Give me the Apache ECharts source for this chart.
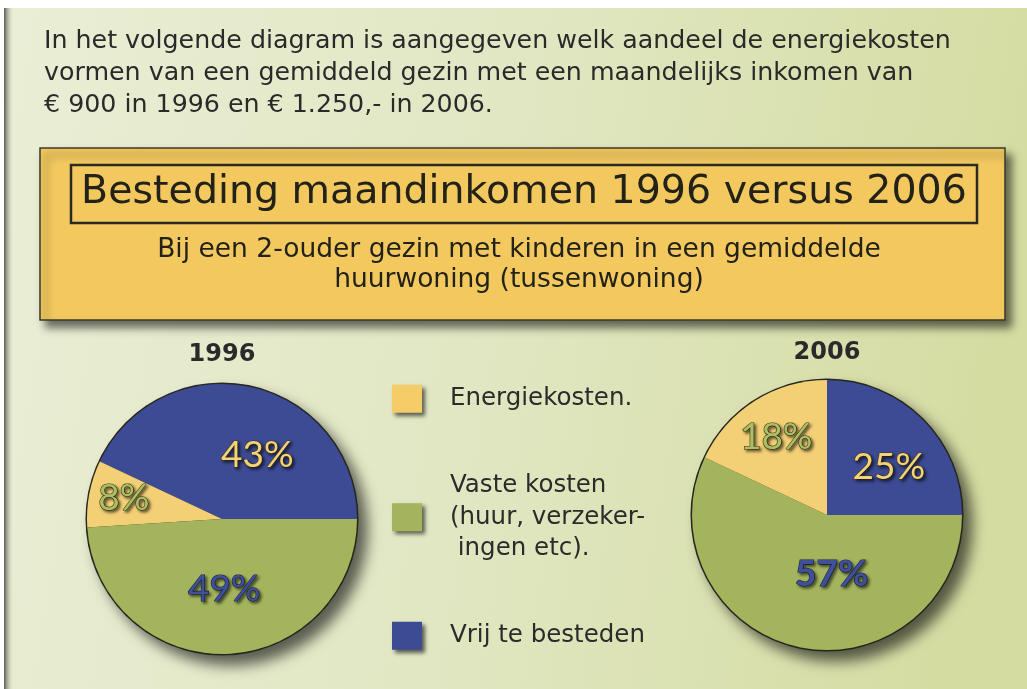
<!DOCTYPE html>
<html>
<head>
<meta charset="utf-8">
<script src="https://cdn.jsdelivr.net/npm/echarts@6/dist/echarts.min.js"></script>
<style>html,body{margin:0;padding:0;}#chart{width:1027px;height:689px;}</style>
</head>
<body>
<div id="chart"></div>
<script>
// ---- data ----
const introLines = [
  'In het volgende diagram is aangegeven welk aandeel de energiekosten',
  'vormen van een gemiddeld gezin met een maandelijks inkomen van',
  '€ 900 in 1996 en € 1.250,- in 2006.'
];
const mainTitle = 'Besteding maandinkomen 1996 versus 2006';
const subTitleLines = [
  'Bij een 2-ouder gezin met kinderen in een gemiddelde',
  'huurwoning (tussenwoning)'
];
const categories = ['Energiekosten.', 'Vaste kosten', 'Vrij te besteden'];
const legendLines = [
  ['Energiekosten.'],
  ['Vaste kosten', '(huur, verzeker-', ' ingen etc).'],
  ['Vrij te besteden']
];
const years = ['1996', '2006'];
const values1996 = [8, 49, 43];
const values2006 = [18, 57, 25];

// ---- styles ----
const sliceColors = ['#f3cf76', '#a3b45c', '#3c4b93'];
const legendColors = ['#f5cc68', '#a3b45c', '#3c4b93'];
const labelFill = ['#aebe64', '#3f4f9c', '#f2d27a'];
const labelBorder = ['#3a4018', '#1c2448', '#4a3a10'];
const pieCenters = [[222, 519], [827, 515]];
const pieRadius = 135;
const drawOrder = [[2, 0, 1], [2, 1, 0]];
const startAngles = [0, 90];
const clockwise = [false, true];
const labelOffsets = [
  [[-29, -8], [0, 0], [20, 5]],
  [[-13, -18], [20, -10], [12, 2]]
];
const labelWeights = [['normal', 'normal', 'normal'], ['normal', 'bold', 'normal']];

const chart = echarts.init(document.getElementById('chart'));

function buildData(vals, p) {
  return drawOrder[p].map(function (i) {
    return {
      name: categories[i],
      value: vals[i],
      itemStyle: { color: sliceColors[i] },
      label: {
        offset: labelOffsets[p][i],
        color: labelFill[i],
        fontWeight: labelWeights[p][i],
        textBorderColor: labelBorder[i],
        textBorderWidth: 1.2,
        textShadowColor: 'rgba(0,0,0,0.55)',
        textShadowBlur: 3,
        textShadowOffsetX: 2,
        textShadowOffsetY: 2
      }
    };
  });
}

const allVals = [values1996, values2006];
const series = [];
allVals.forEach(function (vals, p) {
  series.push({
    type: 'pie',
    silent: true,
    z: 1,
    center: pieCenters[p],
    radius: [0, pieRadius + 1.5],
    startAngle: 0,
    label: { show: false },
    labelLine: { show: false },
    itemStyle: {
      color: '#26261e',
      shadowBlur: 14,
      shadowOffsetX: 9,
      shadowOffsetY: 10,
      shadowColor: 'rgba(0,0,0,0.6)'
    },
    emphasis: { disabled: true },
    data: [{ value: 1, name: '' }]
  });
  series.push({
    type: 'pie',
    silent: true,
    z: 2,
    center: pieCenters[p],
    radius: [0, pieRadius],
    startAngle: startAngles[p],
    clockwise: clockwise[p],
    animation: false,
    itemStyle: { borderWidth: 0 },
    emphasis: { disabled: true },
    label: {
      show: true,
      position: 'inside',
      formatter: '{c}%',
      fontFamily: 'Lato',
      fontSize: 37
    },
    labelLine: { show: false },
    data: buildData(vals, p)
  });
});

const legendTops = [379, 436, 616];
const legendPadTop = [8, 68, 8];
const legends = categories.map(function (c, i) {
  return {
    orient: 'vertical',
    left: 392,
    top: legendTops[i],
    padding: 0,
    selectedMode: false,
    icon: 'rect',
    itemWidth: 30,
    itemHeight: 28,
    data: [c],
    formatter: function () { return legendLines[i].join('\n'); },
    itemStyle: {
      color: legendColors[i],
      borderWidth: 0,
      shadowBlur: 4,
      shadowOffsetX: 3,
      shadowOffsetY: 3,
      shadowColor: 'rgba(0,0,0,0.6)'
    },
    textStyle: {
      fontFamily: 'DejaVu Sans',
      fontSize: 24.5,
      lineHeight: 31.5,
      color: '#2b2b2b',
      padding: [legendPadTop[i], 0, 0, 23]
    }
  };
});

const option = {
  animation: false,
  backgroundColor: {
    type: 'linear', x: 0, y: 0, x2: 1, y2: 0.25,
    colorStops: [
      { offset: 0, color: '#eaeed6' },
      { offset: 0.5, color: '#e1e7c3' },
      { offset: 1, color: '#d5dca2' }
    ]
  },
  graphic: [
    { type: 'rect', shape: { x: 0, y: 0, width: 1027, height: 8 }, style: { fill: '#ffffff' }, z: 0 },
    { type: 'rect', shape: { x: 4, y: 8, width: 9, height: 681 },
      style: { fill: { type: 'linear', x: 0, y: 0, x2: 1, y2: 0, colorStops: [
        { offset: 0, color: '#5a5a52' }, { offset: 1, color: 'rgba(200,205,180,0)' }] } }, z: 0 },
    { type: 'rect', shape: { x: 0, y: 0, width: 4, height: 689 }, style: { fill: '#ffffff' }, z: 0 },
    { type: 'rect', shape: { x: 40, y: 148, width: 965, height: 172 },
      style: { fill: '#f3c95f', stroke: '#3a3a2a', lineWidth: 1.5,
        shadowBlur: 8, shadowOffsetX: 6, shadowOffsetY: 7, shadowColor: 'rgba(0,0,0,0.55)' }, z: 0 },
    { type: 'rect', shape: { x: 71, y: 165, width: 906, height: 58 },
      style: { fill: null, stroke: '#2a2a22', lineWidth: 2.5 }, z: 1 }
  ],
  title: [
    { text: introLines.join('\n'), left: 44, top: 25, padding: 0,
      textStyle: { fontFamily: 'DejaVu Sans', fontSize: 25.3, lineHeight: 32, fontWeight: 'normal', color: '#2a2a2a' } },
    { text: mainTitle, left: 524, top: 169, padding: 0, textAlign: 'center',
      textStyle: { fontFamily: 'DejaVu Sans', fontSize: 39.5, lineHeight: 48, fontWeight: 'normal', color: '#222218' } },
    { text: subTitleLines.join('\n'), left: 519, top: 235, padding: 0, textAlign: 'center',
      textStyle: { fontFamily: 'DejaVu Sans', fontSize: 26.5, lineHeight: 30, fontWeight: 'normal', color: '#222218' } },
    { text: years[0], left: pieCenters[0][0], top: 340, padding: 0, textAlign: 'center',
      textStyle: { fontFamily: 'DejaVu Sans', fontSize: 24, lineHeight: 30, fontWeight: 'bold', color: '#2a2a2a' } },
    { text: years[1], left: pieCenters[1][0], top: 338, padding: 0, textAlign: 'center',
      textStyle: { fontFamily: 'DejaVu Sans', fontSize: 24, lineHeight: 30, fontWeight: 'bold', color: '#2a2a2a' } }
  ],
  legend: legends,
  series: series
};
chart.setOption(option);
</script>
</body>
</html>
